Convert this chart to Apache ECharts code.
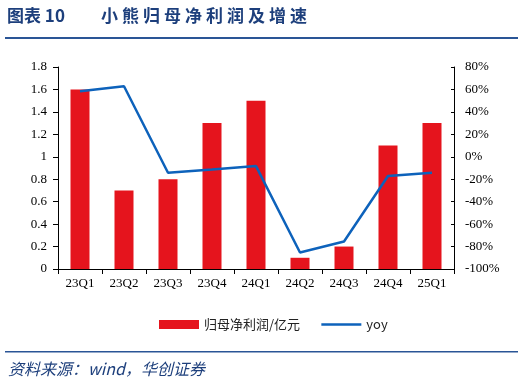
<!DOCTYPE html>
<html><head><meta charset="utf-8">
<script src="https://cdn.jsdelivr.net/npm/echarts@6/dist/echarts.min.js"></script>
<style>html,body{margin:0;padding:0;background:#fff}#c{width:524px;height:387px}</style>
</head><body><div id="c"></div>
<script>
const categories = ['23Q1','23Q2','23Q3','23Q4','24Q1','24Q2','24Q3','24Q4','25Q1'];
const profit = [1.6, 0.7, 0.8, 1.3, 1.5, 0.1, 0.2, 1.1, 1.3];
const yoy = [58.4, 62.8, -14.2, -11.3, -8.3, -85.3, -75.5, -17.1, -14.2];
const titleHead = '图表 10';
const titleBody = '小熊归母净利润及增速';
const sourceText = '资料来源：wind，华创证券';
const seriesNames = ['归母净利润/亿元', 'yoy'];

const serif = 'Liberation Serif, Times New Roman, serif';
const cjk = 'Noto Sans CJK SC';
const navy = '#1d3f7c';

const titleChars = titleBody.split('').map((ch, i) => ({
  type: 'text', left: 101 + i * 21, top: 7,
  style: { text: ch, font: 'bold 17px "Noto Sans CJK SC"', fill: navy }
}));

const chart = echarts.init(document.getElementById('c'), null, { renderer: 'canvas' });
chart.setOption({
  animation: false,
  backgroundColor: '#fff',
  grid: { left: 58, right: 70, top: 67, bottom: 118 },
  legend: {
    left: 154, top: 313, itemWidth: 40, itemHeight: 9, itemGap: 20,
    textStyle: { fontFamily: cjk, fontSize: 13, color: '#222' },
    data: [
      { name: seriesNames[0], icon: 'rect' },
      { name: seriesNames[1], itemStyle: { opacity: 0 }, lineStyle: { color: '#0d62bb', width: 2.5, opacity: 1 } }
    ]
  },
  xAxis: {
    type: 'category', data: categories,
    axisLine: { lineStyle: { color: '#000', width: 1 } },
    axisTick: { show: true, alignWithLabel: false, length: 5, lineStyle: { color: '#000' } },
    axisLabel: { fontFamily: serif, fontSize: 13, color: '#000', margin: 8 }
  },
  yAxis: [
    {
      type: 'value', min: 0, max: 1.8, interval: 0.2,
      splitLine: { show: false },
      axisLine: { show: true, lineStyle: { color: '#000' } },
      axisTick: { show: true, length: 5, lineStyle: { color: '#000' } },
      axisLabel: { fontFamily: serif, fontSize: 13, color: '#000', margin: 11,
        formatter: v => String(Math.round(v * 10) / 10) }
    },
    {
      type: 'value', min: -100, max: 80, interval: 20,
      splitLine: { show: false },
      axisLine: { show: true, lineStyle: { color: '#000' } },
      axisTick: { show: true, inside: true, length: 3, lineStyle: { color: '#000' } },
      axisLabel: { fontFamily: serif, fontSize: 13, color: '#000', margin: 11, formatter: '{value}%' }
    }
  ],
  series: [
    { name: seriesNames[0], type: 'bar', data: profit, barWidth: 19, yAxisIndex: 0,
      itemStyle: { color: '#e5141d' } },
    { name: seriesNames[1], type: 'line', data: yoy, yAxisIndex: 1, symbol: 'none',
      lineStyle: { color: '#0d62bb', width: 2.5 }, itemStyle: { color: '#0d62bb' } }
  ],
  graphic: [
    { type: 'text', left: 7, top: 7, style: { text: titleHead, font: 'bold 17px "Noto Sans CJK SC"', fill: navy } },
    ...titleChars,
    { type: 'rect', shape: { x: 5, y: 37, width: 513, height: 2 }, style: { fill: '#2a5596' } },
    { type: 'rect', shape: { x: 5, y: 351, width: 513, height: 1.5 }, style: { fill: '#2a5596' } },
    { type: 'text', left: 8, top: 361, style: { text: sourceText, font: 'italic 16px "Noto Sans CJK SC"', fill: navy } }
  ]
});
</script></body></html>
